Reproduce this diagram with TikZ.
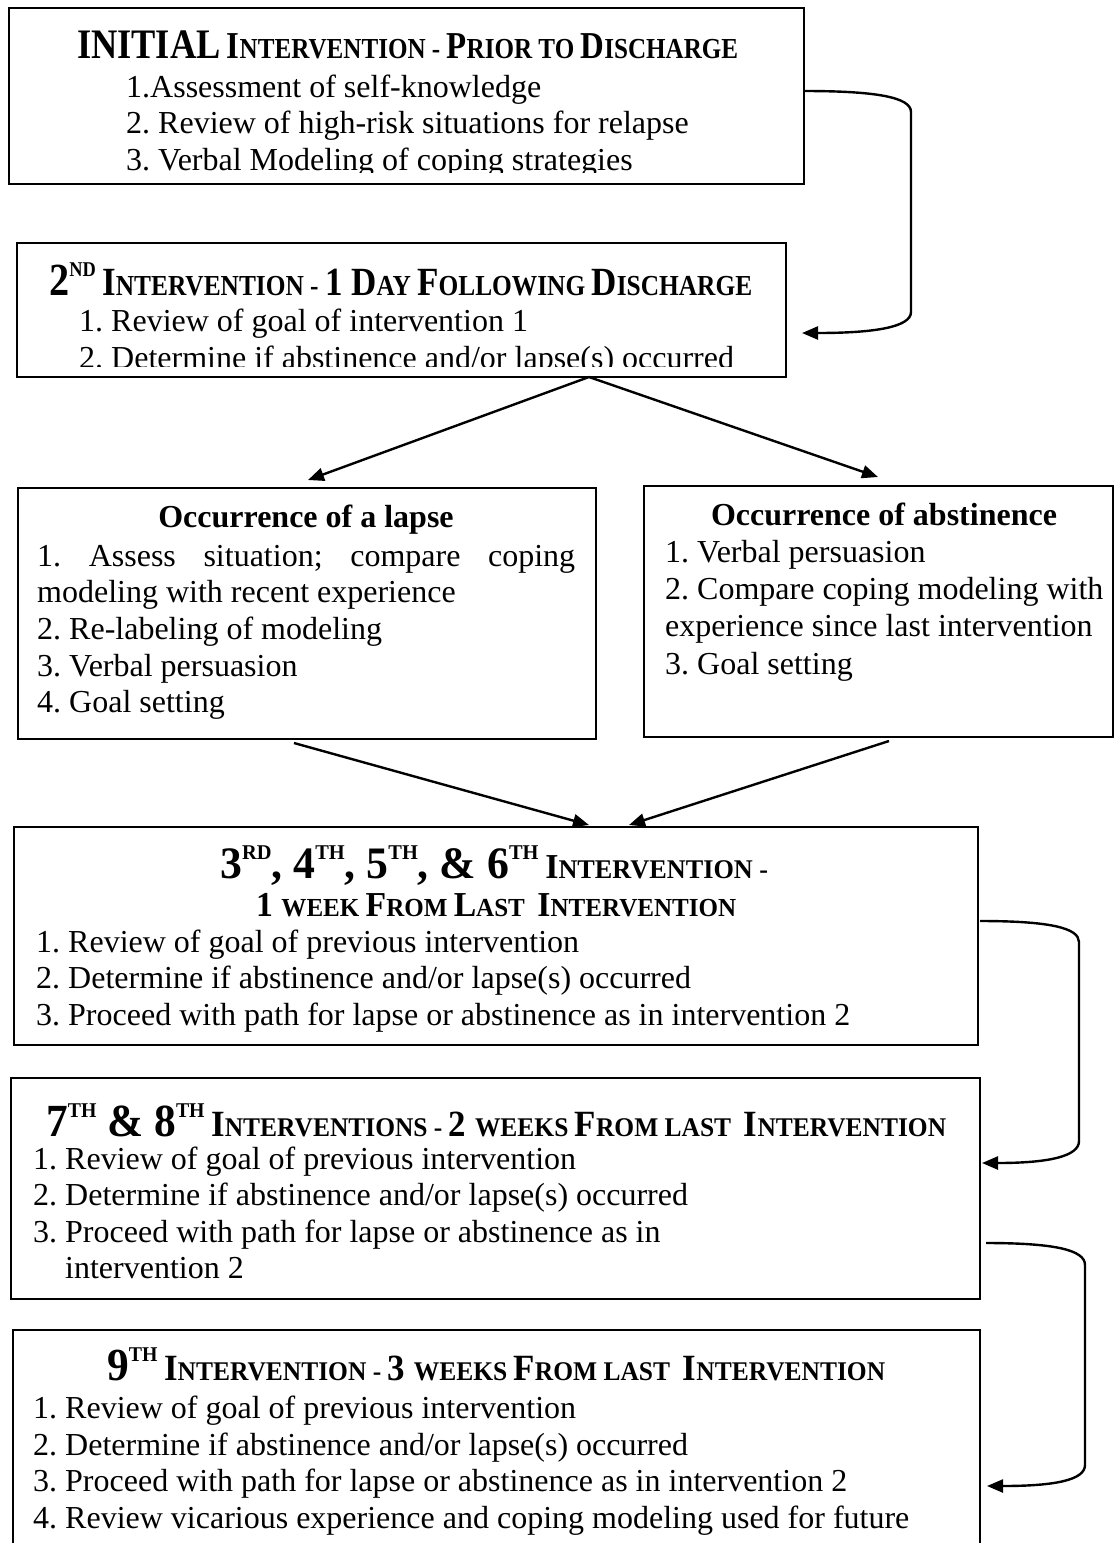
\documentclass[tikz,border=0pt]{standalone}
\usepackage{fontspec}
\setmainfont{Liberation Serif}
\usepackage{graphicx}
\usetikzlibrary{arrows.meta,calc}
\frenchspacing

\newcommand{\hsz}[2]{{\fontsize{#1pt}{#1pt}\selectfont #2}}
\newcommand{\hsup}[1]{\raisebox{19pt}{\fontsize{21pt}{21pt}\selectfont #1}}

\begin{document}
\begin{tikzpicture}[x=1pt,y=-1pt,
  box/.style={draw, line width=2pt, inner sep=0pt, outer sep=0pt, anchor=north west},
  item/.style={anchor=base west, inner sep=0pt, font=\fontsize{32pt}{36.8pt}\selectfont},
  ttl/.style={anchor=base, inner sep=0pt, font=\fontsize{32pt}{36.8pt}\selectfont\bfseries},
  hdr/.style={anchor=base west, inner sep=0pt, font=\bfseries},
  conn/.style={line width=2.4pt, -{Triangle[length=16pt,width=13pt]}},
]
\useasboundingbox[fill=white] (0,0) rectangle (1115,1543);
\clip (0,0) rectangle (1115,1543);

% boxes
\node[box, minimum width=795pt, minimum height=176pt] (b1) at (9,8) {};
\node[box, minimum width=769pt, minimum height=134pt] (b2) at (17,243) {};
\node[box, minimum width=578pt, minimum height=251pt] (lapse) at (18,488) {};
\node[box, minimum width=469pt, minimum height=251pt] (abst) at (644,486) {};
\node[box, minimum width=964pt, minimum height=218pt] (b3) at (14,827) {};
\node[box, minimum width=969pt, minimum height=221pt] (b4) at (11,1078) {};
\node[box, minimum width=967pt, minimum height=240pt] (b5) at (13,1330) {};

% box 1 text
\begin{scope}
\clip (9,8) rectangle (804,172);
\node[hdr] (h1) at (77,58) {\resizebox{661pt}{\height}{\hsz{42}{INITIAL}\hsz{29}{ }\hsz{38}{I}\hsz{29}{NTERVENTION - }\hsz{38}{P}\hsz{29}{RIOR TO }\hsz{38}{D}\hsz{29}{ISCHARGE}}};
\node[item] (t11) at (126,97) {1.Assessment of self-knowledge};
\node[item] (t12) at (126,133) {2. Review of high-risk situations for relapse};
\node[item] (t13) at (126,170) {3. Verbal Modeling of coping strategies};
\end{scope}

% box 2 text
\begin{scope}
\clip (17,243) rectangle (786,366);
\node[hdr] (h2) at (49,295) {\resizebox{703pt}{\height}{\hsz{46}{2}\hsup{ND}\hsz{29}{ }\hsz{40}{I}\hsz{29}{NTERVENTION - }\hsz{40}{1 D}\hsz{29}{AY }\hsz{40}{F}\hsz{29}{OLLOWING }\hsz{40}{D}\hsz{29}{ISCHARGE}}};
\node[item] (t21) at (79,331) {1. Review of goal of intervention 1};
\node[item] (t22) at (79,368) {2. Determine if abstinence and/or lapse(s) occurred};
\end{scope}

% lapse box
\node[ttl] (hl) at (306,527) {Occurrence of a lapse};
\node[item] (tl1) at (37,566) {\makebox[538pt][s]{1. Assess situation; compare coping}};
\node[item] (tl2) at (37,602) {modeling with recent experience};
\node[item] (tl3) at (37,639) {2. Re-labeling of modeling};
\node[item] (tl4) at (37,676) {3. Verbal persuasion};
\node[item] (tl5) at (37,712) {4. Goal setting};

% abstinence box
\node[ttl] (ha) at (884,525) {Occurrence of abstinence};
\node[item] (ta1) at (665,562) {1. Verbal persuasion};
\node[item] (ta2) at (665,599) {2. Compare coping modeling with};
\node[item] (ta3) at (665,636) {experience since last intervention};
\node[item] (ta4) at (665,674) {3. Goal setting};

% box 3
\node[hdr] (h3a) at (220,878) {\resizebox{548pt}{\height}{\hsz{45}{3}\hsup{RD}\hsz{45}{, 4}\hsup{TH}\hsz{45}{, 5}\hsup{TH}\hsz{45}{, \& 6}\hsup{TH}\hsz{28}{ }\hsz{35}{I}\hsz{27}{NTERVENTION -}}};
\node[hdr] (h3b) at (256,916) {\resizebox{480pt}{\height}{\hsz{35}{1 }\hsz{26}{WEEK }\hsz{35}{F}\hsz{26}{ROM }\hsz{35}{L}\hsz{26}{AST\ \ }\hsz{35}{I}\hsz{26}{NTERVENTION}}};
\node[item] (t31) at (36,952) {1. Review of goal of previous intervention};
\node[item] (t32) at (36,988) {2. Determine if abstinence and/or lapse(s) occurred};
\node[item] (t33) at (36,1025) {3. Proceed with path for lapse or abstinence as in intervention 2};

% box 4
\node[hdr] (h4) at (46,1136) {\resizebox{900pt}{\height}{\hsz{46}{7}\hsup{TH}\hsz{46}{ \& 8}\hsup{TH}\hsz{28}{ }\hsz{37}{I}\hsz{27}{NTERVENTIONS - }\hsz{37}{2 }\hsz{27}{WEEKS }\hsz{37}{F}\hsz{27}{ROM LAST\ \ }\hsz{37}{I}\hsz{27}{NTERVENTION}}};
\node[item] (t41) at (33,1169) {1. Review of goal of previous intervention};
\node[item] (t42) at (33,1205) {2. Determine if abstinence and/or lapse(s) occurred};
\node[item] (t43) at (33,1242) {3. Proceed with path for lapse or abstinence as in};
\node[item] (t44) at (65,1278) {intervention 2};

% box 5
\node[hdr] (h5) at (107,1380) {\resizebox{778pt}{\height}{\hsz{46}{9}\hsup{TH}\hsz{28}{ }\hsz{37}{I}\hsz{27}{NTERVENTION - }\hsz{37}{3 }\hsz{27}{WEEKS }\hsz{37}{F}\hsz{27}{ROM LAST\ \ }\hsz{37}{I}\hsz{27}{NTERVENTION}}};
\node[item] (t51) at (33,1418) {1. Review of goal of previous intervention};
\node[item] (t52) at (33,1455) {2. Determine if abstinence and/or lapse(s) occurred};
\node[item] (t53) at (33,1491) {3. Proceed with path for lapse or abstinence as in intervention 2};
\node[item] (t54) at (33,1528) {4. Review vicarious experience and coping modeling used for future};

% connectors
\draw[conn] ($(b1.north east)+(0,83)$) .. controls (875,91) and (911,97) .. (911,112) -- (911,312) .. controls (911,327) and (875,333) .. ($(b2.north east)+(16,90)$);
\coordinate (fork) at ($(b2.south west)+(572,0)$);
\draw[conn] (fork) -- ($(lapse.north west)+(290,-8)$);
\draw[conn] (fork) -- ($(abst.north west)+(234,-9)$);
\draw[conn] ($(lapse.south west)+(276,4)$) -- ($(b3.north west)+(575,-2)$);
\draw[conn] ($(abst.south west)+(245,4)$) -- ($(b3.north west)+(615,-2)$);
\draw[conn] ($(b3.north east)+(2,94)$) .. controls (1050,921) and (1079,928) .. (1079,942) -- (1079,1141) .. controls (1079,1156) and (1050,1163) .. ($(b4.north east)+(2,85)$);
\draw[conn] ($(b4.north east)+(6,165)$) .. controls (1055,1243) and (1085,1250) .. (1085,1265) -- (1085,1465) .. controls (1085,1480) and (1055,1486) .. ($(b5.north east)+(7,156)$);
\end{tikzpicture}
\end{document}
